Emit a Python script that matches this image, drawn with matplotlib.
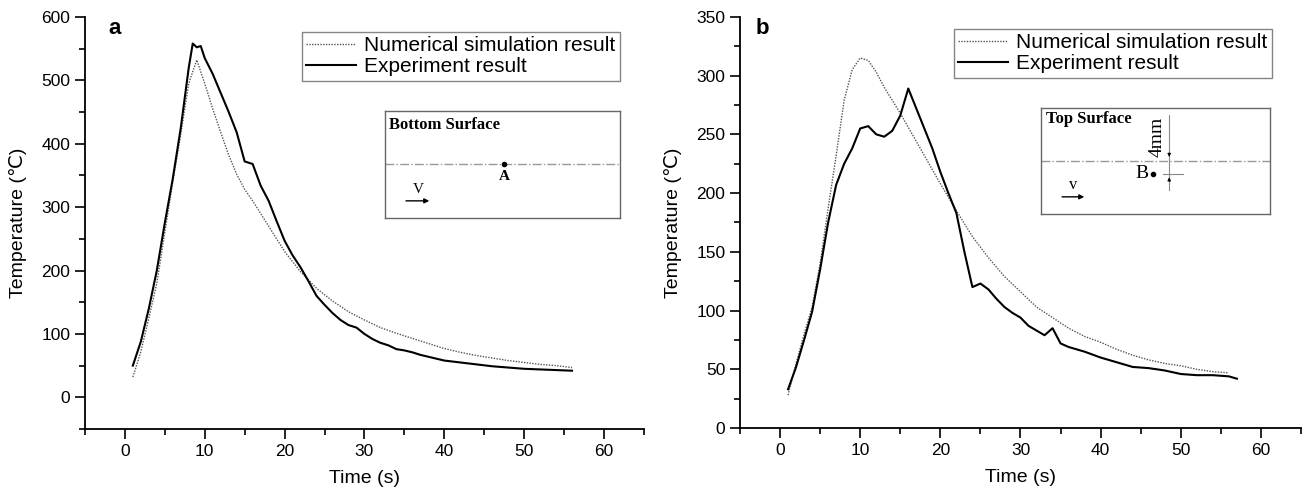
import numpy as np
import matplotlib
matplotlib.use('Agg')
import matplotlib.pyplot as plt
from matplotlib.ticker import MultipleLocator

plt.rcParams['font.family'] = ['Liberation Sans', 'DejaVu Sans']

# panel a: bottom surface, point A
ta_exp = [1, 2, 3, 4, 5, 6, 7, 8, 8.5, 9, 9.5, 10, 11, 12, 13, 14, 15, 16, 17, 18, 19, 20,
          21, 22, 23, 24, 25, 26, 27, 28, 29, 30, 31, 32, 33, 34, 35, 36, 37, 38, 40, 42,
          44, 46, 48, 50, 52, 54, 56]
Ta_exp = [50, 88, 140, 200, 275, 345, 425, 520, 558, 552, 554, 535, 510, 480, 450, 418, 372,
          368, 334, 310, 278, 247, 224, 205, 183, 160, 146, 133, 122, 114, 110, 100, 92, 86,
          82, 76, 74, 71, 67, 64, 58, 55, 52, 49, 47, 45, 44, 43, 42]
ta_sim = [1, 2, 3, 4, 5, 6, 7, 8, 9, 10, 11, 12, 13, 14, 15, 16, 18, 20, 22, 24, 26, 28, 30,
          32, 34, 36, 38, 40, 42, 44, 46, 48, 50, 52, 54, 56]
Ta_sim = [32, 72, 125, 180, 260, 340, 415, 495, 532, 495, 455, 418, 382, 352, 328, 310, 270,
          230, 198, 172, 152, 135, 122, 110, 101, 93, 85, 77, 71, 66, 62, 58, 55, 52, 50, 47]

# panel b: top surface, point B
tb_exp = [1, 2, 3, 4, 5, 6, 7, 8, 9, 10, 11, 12, 13, 14, 15, 16, 17, 18, 19, 20, 21, 22, 23,
          24, 25, 26, 27, 28, 29, 30, 31, 32, 33, 34, 35, 36, 38, 40, 42, 44, 46, 48, 50,
          52, 54, 56, 57]
Tb_exp = [33, 52, 75, 99, 135, 175, 207, 225, 238, 255, 257, 250, 248, 253, 266, 289, 272,
          255, 238, 218, 200, 183, 150, 120, 123, 118, 110, 103, 98, 94, 87, 83, 79, 85, 72,
          69, 65, 60, 56, 52, 51, 49, 46, 45, 45, 44, 42]
tb_sim = [1, 2, 3, 4, 5, 6, 7, 8, 9, 10, 11, 12, 13, 14, 15, 16, 17, 18, 19, 20, 22, 24, 26,
          28, 30, 32, 34, 36, 38, 40, 42, 44, 46, 48, 50, 52, 54, 56]
Tb_sim = [28, 55, 80, 103, 140, 187, 232, 279, 305, 315, 313, 303, 290, 279, 268, 256, 244,
          232, 220, 208, 185, 163, 145, 129, 116, 103, 94, 85, 78, 73, 67, 62, 58, 55, 53,
          50, 48, 47]

labels = ['Numerical simulation result', 'Experiment result']

fig = plt.figure(figsize=(13.09, 4.96), dpi=100)
ax1 = fig.add_axes([0.0649, 0.135, 0.427, 0.831])
ax2 = fig.add_axes([0.5653, 0.137, 0.4286, 0.829])


def style(ax, ylim, ymaj):
    ax.set_xlim(-5, 65)
    ax.set_ylim(*ylim)
    ax.xaxis.set_major_locator(MultipleLocator(10))
    ax.xaxis.set_minor_locator(MultipleLocator(5))
    ax.yaxis.set_major_locator(MultipleLocator(ymaj))
    ax.yaxis.set_minor_locator(MultipleLocator(ymaj / 2))
    for s in ['top', 'right']:
        ax.spines[s].set_visible(False)
    for s in ['left', 'bottom']:
        ax.spines[s].set_linewidth(1.3)
    ax.tick_params(which='major', direction='out', length=7, width=1.2, labelsize=12.5)
    ax.tick_params(which='minor', direction='out', length=4, width=1.2)
    ax.set_xlabel('Time (s)', fontsize=14, labelpad=8)
    ax.set_ylabel('Temperature (\u2103)', fontsize=14, labelpad=10)


def curves(ax, t_sim, T_sim, t_exp, T_exp, legbox):
    ax.plot(t_sim, T_sim, color='#555555', lw=1.0, ls=(0, (1, 1)), label=labels[0])
    ax.plot(t_exp, T_exp, color='black', lw=1.5, label=labels[1])
    leg = ax.legend(loc='upper right', bbox_to_anchor=legbox, fontsize=15,
                    frameon=True, fancybox=False, edgecolor='#666666',
                    handlelength=2.4, handletextpad=0.4, labelspacing=0.12,
                    borderpad=0.2, borderaxespad=0.0)
    leg.get_frame().set_linewidth(1.0)


style(ax1, (-50, 600), 100)
style(ax2, (0, 350), 50)
curves(ax1, ta_sim, Ta_sim, ta_exp, Ta_exp, (0.957, 0.964))
curves(ax2, tb_sim, Tb_sim, tb_exp, Tb_exp, (0.948, 0.971))

fig.text(115 / 1309, 1 - 28 / 496, 'a', fontsize=16, fontweight='bold', ha='center', va='center')
fig.text(762 / 1309, 1 - 28 / 496, 'b', fontsize=16, fontweight='bold', ha='center', va='center')

serif = dict(family='Liberation Serif')


def inset(ax, rect):
    ins = ax.inset_axes(rect)
    ins.set_xlim(0, 1)
    ins.set_ylim(0, 1)
    ins.set_xticks([])
    ins.set_yticks([])
    for s in ins.spines.values():
        s.set_color('#666666')
        s.set_linewidth(1.0)
    return ins


# inset a
ia = inset(ax1, [0.537, 0.512, 0.420, 0.260])
ia.text(0.015, 0.87, 'Bottom Surface', fontsize=12, fontweight='bold', va='center', **serif)
ia.plot([0, 1], [0.505, 0.505], color='#999999', lw=1.0, ls='-.')
ia.plot([0.506], [0.505], 'o', color='black', ms=3)
ia.text(0.506, 0.39, 'A', fontsize=11, fontweight='bold', ha='center', va='center', **serif)
ia.annotate('', xy=(0.20, 0.16), xytext=(0.077, 0.16),
            arrowprops=dict(arrowstyle='-|>', color='black', lw=1.0, mutation_scale=7))
ia.text(0.14, 0.27, 'V', fontsize=11, ha='center', va='center', **serif)

# inset b
ib = inset(ax2, [0.537, 0.521, 0.408, 0.258])
ib.text(0.02, 0.895, 'Top Surface', fontsize=12, fontweight='bold', va='center', **serif)
ib.plot([0, 1], [0.50, 0.50], color='#999999', lw=1.0, ls='-.')
ib.plot([0.489], [0.377], 'o', color='black', ms=3)
ib.text(0.441, 0.377, 'B', fontsize=14, ha='center', va='center', **serif)
ib.plot([0.559, 0.559], [0.226, 0.934], color='#888888', lw=0.8)
ib.plot([0.533, 0.62], [0.377, 0.377], color='#888888', lw=0.8)
ib.annotate('', xy=(0.559, 0.51), xytext=(0.559, 0.60),
            arrowprops=dict(arrowstyle='-|>', color='black', lw=0.6, mutation_scale=5))
ib.annotate('', xy=(0.559, 0.37), xytext=(0.559, 0.28),
            arrowprops=dict(arrowstyle='-|>', color='black', lw=0.6, mutation_scale=5))
ib.text(0.507, 0.73, '4mm', fontsize=14, rotation=90, ha='center', va='center', **serif)
ib.annotate('', xy=(0.20, 0.16), xytext=(0.079, 0.16),
            arrowprops=dict(arrowstyle='-|>', color='black', lw=1.0, mutation_scale=7))
ib.text(0.14, 0.27, 'v', fontsize=12, ha='center', va='center', **serif)

fig.savefig('out.png', dpi=100)
